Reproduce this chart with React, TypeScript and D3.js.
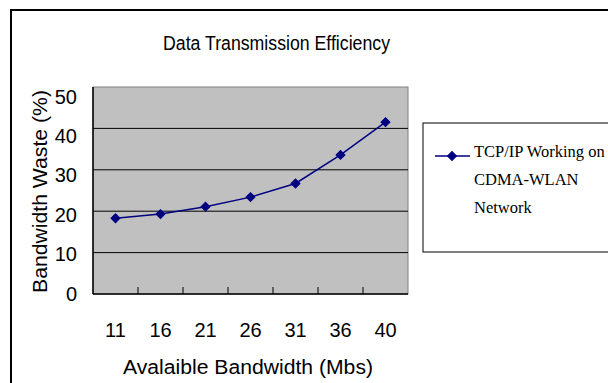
import React from "react";
import * as d3 from "d3";

const categories = ["11", "16", "21", "26", "31", "36", "40"];
const wasteValues = [18.3, 19.3, 21.1, 23.4, 26.7, 33.6, 41.5];
const yTicks = [0, 10, 20, 30, 40, 50];
const seriesName = ["TCP/IP Working on", "CDMA-WLAN", "Network"];
const titleText = "Data Transmission Efficiency";
const xTitleText = "Avalaible Bandwidth (Mbs)";
const yTitleText = "Bandwidth Waste (%)";

const W = 608;
const H = 383;
const plot = { left: 93, right: 408, top: 87, bottom: 294 };
const sans = "'Liberation Sans', Arial, sans-serif";
const serif = "'Liberation Serif', 'Times New Roman', serif";
const navy = "#000080";

export default function App() {
  const x = d3.scaleBand<string>().domain(categories).range([plot.left, plot.right]).padding(0);
  const y = d3.scaleLinear().domain([0, 50]).range([plot.bottom, plot.top]);
  const yLabel = d3.scaleLinear().domain([0, 50]).range([293.5, 96.5]);
  const cx = (c: string) => (x(c) as number) + x.bandwidth() / 2;

  const line = d3
    .line<number>()
    .x((_, i) => cx(categories[i]))
    .y((d) => y(d));

  const diamond = d3.symbol().type(d3.symbolSquare).size(40)() as string;

  const tickXs = categories.slice(1).map((c) => x(c) as number);

  return (
    <svg width={W} height={H} style={{ position: "fixed", left: 0, top: 0, background: "#fff" }}>
      {/* chart frame */}
      <rect x={11} y={10} width={W} height={H} fill="#fff" stroke="#000" strokeWidth={2} />

      {/* title */}
      <text x={276.5} y={50} textAnchor="middle" fontFamily={sans} fontSize={20} textLength={227} lengthAdjust="spacingAndGlyphs">
        {titleText}
      </text>

      {/* plot area */}
      <rect
        x={plot.left}
        y={plot.top}
        width={plot.right - plot.left}
        height={plot.bottom - plot.top}
        fill="#C0C0C0"
        stroke="#808080"
        strokeWidth={1}
      />
      {yTicks
        .filter((t) => t > 0 && t < 50)
        .map((t) => (
          <line key={t} x1={plot.left} x2={plot.right} y1={y(t)} y2={y(t)} stroke="#000" strokeWidth={1} />
        ))}
      {/* axes */}
      <line x1={plot.left} x2={plot.left} y1={plot.top} y2={plot.bottom} stroke="#000" strokeWidth={1.5} />
      <line x1={plot.left} x2={plot.right} y1={plot.bottom} y2={plot.bottom} stroke="#000" strokeWidth={1.5} />
      {tickXs.map((tx, i) => (
        <line key={i} x1={tx} x2={tx} y1={plot.bottom} y2={plot.bottom - 7} stroke="#000" strokeWidth={1} />
      ))}

      {/* series */}
      <path d={line(wasteValues) as string} fill="none" stroke={navy} strokeWidth={1.5} />
      {wasteValues.map((v, i) => (
        <path
          key={i}
          d={diamond}
          transform={`translate(${cx(categories[i])},${y(v)}) rotate(45)`}
          fill={navy}
          stroke={navy}
          strokeWidth={1}
        />
      ))}

      {/* y tick labels */}
      {yTicks.map((t) => (
        <text key={t} x={77} y={yLabel(t)} dy="0.35em" textAnchor="end" fontFamily={sans} fontSize={20}>
          {t}
        </text>
      ))}

      {/* x tick labels */}
      {categories.map((c) => (
        <text key={c} x={cx(c)} y={337} textAnchor="middle" fontFamily={sans} fontSize={20}>
          {c}
        </text>
      ))}

      {/* axis titles */}
      <text x={248} y={374} textAnchor="middle" fontFamily={sans} fontSize={20} textLength={250} lengthAdjust="spacingAndGlyphs">
        {xTitleText}
      </text>
      <text
        transform="translate(47,191.5) rotate(-90)"
        textAnchor="middle"
        fontFamily={sans}
        fontSize={20}
        textLength={203}
        lengthAdjust="spacingAndGlyphs"
      >
        {yTitleText}
      </text>

      {/* legend */}
      <rect x={423} y={123} width={200} height={129} fill="#fff" stroke="#000" strokeWidth={1} />
      <line x1={435} x2={470} y1={156} y2={156} stroke={navy} strokeWidth={1.5} />
      <path d={diamond} transform="translate(452,156) rotate(45)" fill={navy} stroke={navy} strokeWidth={1} />
      {seriesName.map((s, i) => (
        <text key={i} x={474} y={157 + i * 28} fontFamily={serif} fontSize={16.5}>
          {s}
        </text>
      ))}
    </svg>
  );
}
